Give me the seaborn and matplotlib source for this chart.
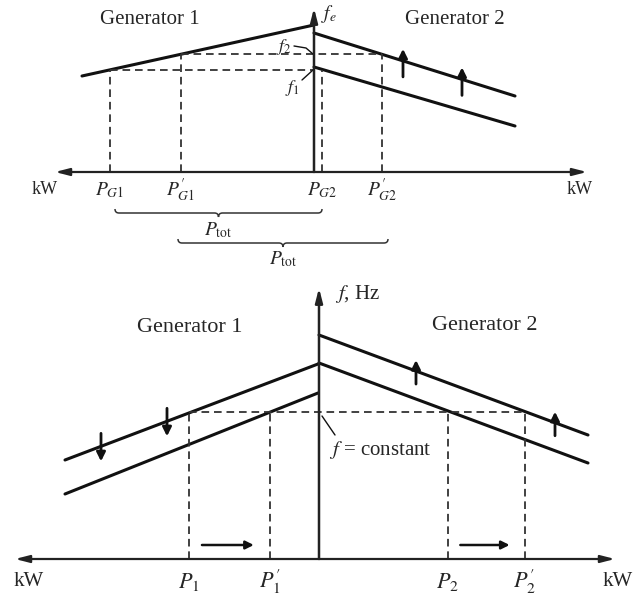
import numpy as np
import pandas as pd
import matplotlib
matplotlib.use("Agg")
import matplotlib.pyplot as plt
import seaborn as sns
from matplotlib.path import Path
from matplotlib.patches import PathPatch

# ---- top panel: f_e vs kW, generator 1 to the left, generator 2 to the right
top_g1_p = [-232, 0]
top_g1_f = [96, 147]
top_g2_p = [0, 201]
top_g2_f_old = [105, 46]
top_g2_f_new = [139, 76]
top_f1 = 102
top_f2 = 118
top_p_ticks = [-204, -133, 8, 68]
top_p_labels = [r"$P_{G1}$", r"$P^{\prime}_{G1}$", r"$P_{G2}$", r"$P^{\prime}_{G2}$"]
top_up_arrows = [89, 148]

# ---- bottom panel: f, Hz vs kW
bot_g1_p = [-254, -1]
bot_g1_f_old = [99, 195]
bot_g1_f_new = [65, 166]
bot_g2_p = [0, 269]
bot_g2_f_old = [196, 96]
bot_g2_f_new = [224, 124]
bot_f = 147
bot_p_ticks = [-130, -49, 129, 206]
bot_p_labels = [r"$P_1$", r"$P^{\prime}_1$", r"$P_2$", r"$P^{\prime}_2$"]
bot_down_arrows = [-218, -152]
bot_up_arrows = [97, 236]

sns.set_theme(style="white")
plt.rcParams["font.family"] = ["Liberation Serif", "DejaVu Serif"]
plt.rcParams["mathtext.fontset"] = "stix"
plt.rcParams["lines.scale_dashes"] = False

W, H = 644, 597
fig = plt.figure(figsize=(W / 100, H / 100), dpi=100)
fig.patch.set_facecolor("white")

ax1 = fig.add_axes([0, 1 - 290 / H, 1, 290 / H])
ax1.set_xlim(-314, W - 314)
ax1.set_ylim(172 - 290, 172)
ax2 = fig.add_axes([0, 0, 1, 327 / H])
ax2.set_xlim(-319, W - 319)
ax2.set_ylim(559 - H, 559 - 270)
for ax in (ax1, ax2):
    ax.set_axis_off()
    ax.patch.set_alpha(0)

K = "#111111"
DASH = dict(color="#333333", lw=1.3, dashes=(5.5, 3.5))


def interp(x, xs, ys):
    return np.interp(x, xs, ys) if xs[0] < xs[1] else np.interp(x, xs[::-1], ys[::-1])


def droop(ax, xs, ys):
    sns.lineplot(x=xs, y=ys, ax=ax, color=K, lw=2.2, sort=False)


def arrow(ax, start, end, lw=2.0, ms=13):
    ax.annotate("", xy=end, xytext=start,
                arrowprops=dict(arrowstyle="-|>", color=K, lw=lw, mutation_scale=ms,
                                shrinkA=0, shrinkB=0))


def axes_lines(ax, xmin, xmax, ytop):
    ax.annotate("", xy=(xmin, 0), xytext=(xmax, 0),
                arrowprops=dict(arrowstyle="<|-|>,head_length=0.7,head_width=0.18",
                                color="#222222", lw=1.6, shrinkA=0, shrinkB=0))
    ax.annotate("", xy=(0, ytop), xytext=(0, 0),
                arrowprops=dict(arrowstyle="-|>,head_length=0.7,head_width=0.18",
                                color="#222222", lw=1.8, shrinkA=0, shrinkB=0))


def brace(ax, x0, x1, y, h=4):
    xm = (x0 + x1) / 2
    verts = [(x0, y + h), (x0, y), (x0 + h, y), (xm - h, y), (xm, y), (xm, y - h),
             (xm, y), (xm + h, y), (x1 - h, y), (x1, y), (x1, y + h)]
    codes = [Path.MOVETO, Path.CURVE3, Path.CURVE3, Path.LINETO, Path.CURVE3, Path.CURVE3,
             Path.CURVE3, Path.CURVE3, Path.LINETO, Path.CURVE3, Path.CURVE3]
    ax.add_patch(PathPatch(Path(verts, codes), fill=False, lw=1.1, color="#333333"))


# ================= top panel =================
axes_lines(ax1, -259, 273, 164)
droop(ax1, top_g1_p, top_g1_f)
droop(ax1, top_g2_p, top_g2_f_old)
droop(ax1, top_g2_p, top_g2_f_new)

ax1.plot([top_p_ticks[0], 0], [top_f1, top_f1], **DASH)
ax1.plot([top_p_ticks[1], top_p_ticks[3]], [top_f2, top_f2], **DASH)
for p, f in zip(top_p_ticks, [top_f1, top_f2, top_f1, top_f2]):
    ax1.plot([p, p], [0, f], **DASH)

for x in top_up_arrows:
    yl = interp(x, top_g2_p, top_g2_f_new)
    arrow(ax1, (x, yl - 16), (x, yl + 12))

for p, lab in zip(top_p_ticks, top_p_labels):
    ax1.text(p, -18, lab, ha="center", va="center", fontsize=14)
ax1.text(-269, -18, "kW", ha="center", va="center", fontsize=13)
ax1.text(266, -18, "kW", ha="center", va="center", fontsize=13)
ax1.text(-164, 152, "Generator 1", ha="center", va="center", fontsize=15)
ax1.text(141, 152, "Generator 2", ha="center", va="center", fontsize=15)
ax1.text(7, 158, r"$f_e$", ha="left", va="center", fontsize=14)
ax1.text(-30, 125, r"$f_2$", ha="center", va="center", fontsize=13)
ax1.plot([-20, -8, -1], [126, 124, 118], color=K, lw=1.0)
ax1.text(-22, 84, r"$f_1$", ha="center", va="center", fontsize=13)
ax1.plot([-12, -1], [92, 102], color=K, lw=1.0)

brace(ax1, top_p_ticks[0] + 5, top_p_ticks[2], -41)
ax1.text((top_p_ticks[0] + 5 + top_p_ticks[2]) / 2, -58, r"$P_{\mathrm{tot}}$",
         ha="center", va="center", fontsize=14)
brace(ax1, top_p_ticks[1] - 3, top_p_ticks[3] + 6, -71)
ax1.text((top_p_ticks[1] - 3 + top_p_ticks[3] + 6) / 2, -87, r"$P_{\mathrm{tot}}$",
         ha="center", va="center", fontsize=14)

# ================= bottom panel =================
axes_lines(ax2, -304, 296, 271)
droop(ax2, bot_g1_p, bot_g1_f_old)
droop(ax2, bot_g1_p, bot_g1_f_new)
droop(ax2, bot_g2_p, bot_g2_f_old)
droop(ax2, bot_g2_p, bot_g2_f_new)

ax2.plot([bot_p_ticks[0], bot_p_ticks[3]], [bot_f, bot_f], **DASH)
for p in bot_p_ticks:
    ax2.plot([p, p], [0, bot_f], **DASH)

for x in bot_down_arrows:
    yl = interp(x, bot_g1_p, bot_g1_f_old)
    arrow(ax2, (x, yl + 13), (x, yl - 15))
for x in bot_up_arrows:
    yl = interp(x, bot_g2_p, bot_g2_f_new)
    arrow(ax2, (x, yl - 13), (x, yl + 11))

for a, b in [(bot_p_ticks[0], bot_p_ticks[1]), (bot_p_ticks[2], bot_p_ticks[3])]:
    arrow(ax2, (a + 0.16 * (b - a), 14), (a + 0.8 * (b - a), 14), lw=1.8, ms=12)

for p, lab in zip(bot_p_ticks, bot_p_labels):
    ax2.text(p, -23, lab, ha="center", va="center", fontsize=16)
ax2.text(-290, -23, "kW", ha="center", va="center", fontsize=15)
ax2.text(299, -23, "kW", ha="center", va="center", fontsize=15)
ax2.text(-129, 232, "Generator 1", ha="center", va="center", fontsize=16)
ax2.text(166, 234, "Generator 2", ha="center", va="center", fontsize=16)
ax2.text(16, 265, r"$f$, Hz", ha="left", va="center", fontsize=15)
ax2.text(10, 109, r"$f$ = constant", ha="left", va="center", fontsize=15)
ax2.plot([3, 16], [143, 124], color=K, lw=1.0)

fig.savefig("out.png", dpi=100, facecolor="white")
